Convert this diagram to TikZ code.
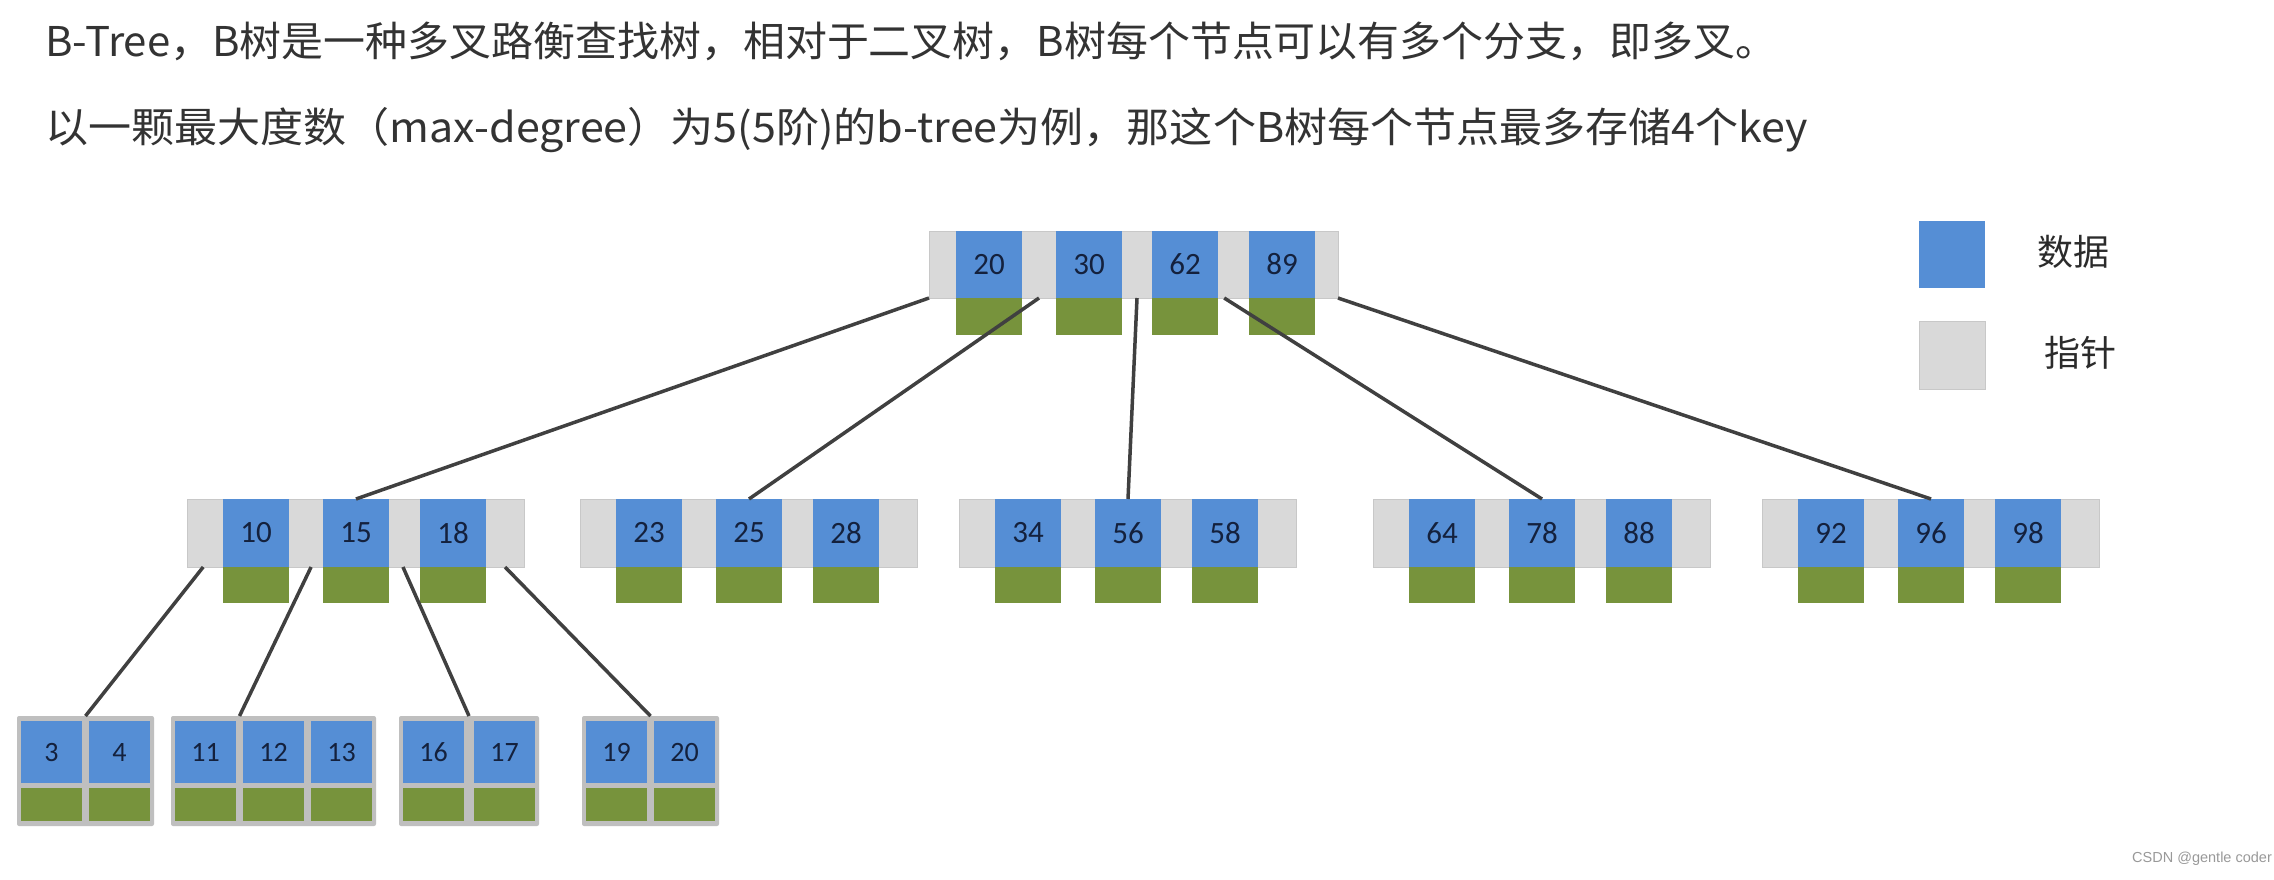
\documentclass[tikz,border=0pt]{standalone}
\usepackage{fontspec}
\setmainfont{Carlito}
\newfontfamily\cjkfont{Noto Sans CJK SC}
\newfontfamily\wmfont{Liberation Sans}
\usetikzlibrary{calc}
\definecolor{keyblue}{HTML}{558ED5}
\definecolor{ptrgray}{HTML}{D9D9D9}
\definecolor{ptrline}{HTML}{C8C8C8}
\definecolor{subgreen}{HTML}{77933C}
\definecolor{leafgray}{HTML}{BFBFBF}
\definecolor{numcol}{HTML}{14213D}
\definecolor{txtcol}{HTML}{333333}
\definecolor{linkcol}{HTML}{404040}
\definecolor{wmcol}{HTML}{999999}
\begin{document}
\begin{tikzpicture}[x=1pt,y=-1pt,
  ptrbar/.style={draw=ptrline, line width=1pt, fill=ptrgray, anchor=north west, inner sep=0pt, outer sep=0pt},
  keybox/.style={fill=keyblue, anchor=north west, inner sep=0pt, outer sep=0pt, minimum width=66pt, text=numcol, font=\fontsize{31}{36}\selectfont},
  subbox/.style={fill=subgreen, anchor=north west, inner sep=0pt, outer sep=0pt, minimum width=66pt},
  leafbox/.style={fill=leafgray, rounded corners=2pt, anchor=north west, inner sep=0pt, outer sep=0pt, minimum height=110pt},
  leafkey/.style={fill=keyblue, anchor=north west, inner sep=0pt, outer sep=0pt, minimum width=61pt, minimum height=62pt, text=numcol, font=\fontsize{28}{32}\selectfont},
  leafsub/.style={fill=subgreen, anchor=north west, inner sep=0pt, outer sep=0pt, minimum width=61pt, minimum height=33pt},
  link/.style={draw=linkcol, line width=3.5pt},
  title/.style={anchor=base west, inner sep=0pt, text=txtcol, font=\cjkfont\fontsize{41}{48}\selectfont},
  legtext/.style={anchor=center, inner sep=0pt, text=txtcol!85!black, font=\cjkfont\fontsize{36}{42}\selectfont}
]
\fill[white] (0,0) rectangle (2274,879);
\useasboundingbox (0,0) rectangle (2274,879);

% title text
\node[title] (t1) at (45,56) {\resizebox{1732pt}{\height}{B-Tree，B树是一种多叉路衡查找树，相对于二叉树，B树每个节点可以有多个分支，即多叉。}};
\node[title] (t2) at (45,142) {\resizebox{1763pt}{\height}{以一颗最大度数（max-degree）为5(5阶)的b-tree为例，那这个B树每个节点最多存储4个key}};

% root
\node[ptrbar, minimum width=409pt, minimum height=67pt] (root) at (929,231) {};
\foreach \i/\x/\v in {1/956/20, 2/1056/30, 3/1152/62, 4/1249/89}{
  \node[keybox, minimum height=67pt] (r\i) at (\x,231) {\v};
  \node[subbox, minimum height=37pt] (rg\i) at (\x,298) {};
}

% second level
\foreach \n/\L/\a/\b/\c in {1/187/10/15/18, 2/580/23/25/28, 3/959/34/56/58, 4/1373/64/78/88, 5/1762/92/96/98}{
  \node[ptrbar, minimum width=337pt, minimum height=68pt] (n\n) at (\L,499) {};
  \node[keybox, minimum height=68pt] (n\n-1) at (\L+36,499) {\a};
  \node[keybox, minimum height=68pt] (n\n-2) at (\L+136,499) {\b};
  \node[keybox, minimum height=68pt] (n\n-3) at (\L+233,499) {\c};
  \node[subbox, minimum height=36pt] (n\n-g1) at (\L+36,567) {};
  \node[subbox, minimum height=36pt] (n\n-g2) at (\L+136,567) {};
  \node[subbox, minimum height=36pt] (n\n-g3) at (\L+233,567) {};
}

% leaves
\node[leafbox, minimum width=137pt] (leaf1) at (17,716) {};
\node[leafkey] (leaf1-1) at (21,721) {3};
\node[leafkey] (leaf1-2) at (89,721) {4};
\node[leafsub] (leaf1-g1) at (21,788) {};
\node[leafsub] (leaf1-g2) at (89,788) {};

\node[leafbox, minimum width=205pt] (leaf2) at (171,716) {};
\node[leafkey] (leaf2-1) at (175,721) {11};
\node[leafkey] (leaf2-2) at (243,721) {12};
\node[leafkey] (leaf2-3) at (311,721) {13};
\node[leafsub] (leaf2-g1) at (175,788) {};
\node[leafsub] (leaf2-g2) at (243,788) {};
\node[leafsub] (leaf2-g3) at (311,788) {};

\node[leafbox, minimum width=140pt] (leaf3) at (399,716) {};
\node[leafkey] (leaf3-1) at (403,721) {16};
\node[leafkey] (leaf3-2) at (474,721) {17};
\node[leafsub] (leaf3-g1) at (403,788) {};
\node[leafsub] (leaf3-g2) at (474,788) {};

\node[leafbox, minimum width=137pt] (leaf4) at (582,716) {};
\node[leafkey] (leaf4-1) at (586,721) {19};
\node[leafkey] (leaf4-2) at (654,721) {20};
\node[leafsub] (leaf4-g1) at (586,788) {};
\node[leafsub] (leaf4-g2) at (654,788) {};

% attachment coordinates
\coordinate (a1) at ($(leaf1-1.north east)!0.5!(leaf1-2.north west)$);
\coordinate (a2) at ($(leaf2-1.north east)!0.5!(leaf2-2.north west)$);
\coordinate (a3) at ($(leaf3-1.north east)!0.5!(leaf3-2.north west)$);
\coordinate (a4) at ($(leaf4-1.north east)!0.5!(leaf4-2.north west)$);

% connectors root -> level 2
\draw[link] (root.south west) -- (n1-2.north);
\draw[link] ($(r1.south east)!0.5!(r2.south west)$) -- (n2-2.north);
\draw[link] ($(r2.south east)!0.5!(r3.south west)$) -- (n3-2.north);
\draw[link] ($(r3.south east)!0.2!(r4.south west)$) -- (n4-2.north);
\draw[link] (root.south east) -- (n5-2.north);

% connectors level 2 -> leaves
\draw[link] ($(n1.south west)!0.45!(n1-1.south west)$) -- (a1 |- leaf1.north);
\draw[link] ($(n1-1.south east)!0.65!(n1-2.south west)$) -- (a2 |- leaf2.north);
\draw[link] ($(n1-2.south east)!0.45!(n1-3.south west)$) -- (a3 |- leaf3.north);
\draw[link] ($(n1-3.south east)!0.5!(n1.south east)$) -- (a4 |- leaf4.north);

% legend
\node[keybox, minimum height=67pt] (legdata) at (1919,221) {};
\node[ptrbar, minimum width=66pt, minimum height=68pt] (legptr) at (1919,321) {};
\node[legtext] (legdatat) at (2073,252) {数据};
\node[legtext] (legptrt) at (2080,353) {指针};

% watermark
\node[anchor=west, inner sep=0pt, text=wmcol, font=\wmfont\fontsize{14.5}{18}\selectfont] (wm) at (2132,859) {CSDN @gentle coder};
\end{tikzpicture}
\end{document}
